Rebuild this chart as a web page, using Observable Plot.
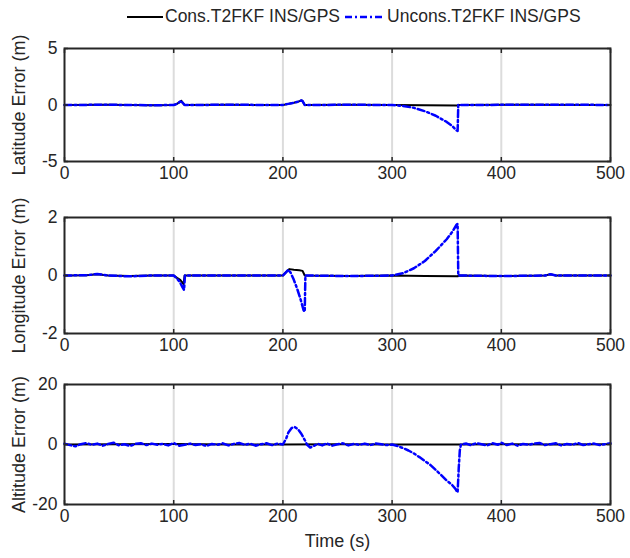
<!DOCTYPE html>
<html>
<head>
<meta charset="utf-8">
<script src="https://cdn.jsdelivr.net/npm/d3@7"></script>
<script src="https://cdn.jsdelivr.net/npm/@observablehq/plot@0.6"></script>
<style>
  html, body { margin: 0; padding: 0; background: #fff; }
  #wrap { position: relative; width: 630px; height: 558px; font-family: "Liberation Sans", Arial, sans-serif; color: #262626; }
  #wrap svg { position: absolute; left: 0; overflow: visible; }
  #legend { position: absolute; top: 6px; left: 126px; font-size: 17.5px; display: flex; align-items: center; white-space: nowrap; }
</style>
</head>
<body>
<div id="wrap">
  <div id="legend">
    <svg width="38" height="20" style="position:static"><line x1="1" y1="10" x2="37" y2="10" stroke="#000" stroke-width="2"/></svg>
    <span style="margin-left:1px">Cons.T2FKF INS/GPS</span>
    <svg width="42" height="20" style="position:static;margin-left:4px"><line x1="1" y1="10" x2="41" y2="10" stroke="#0000ff" stroke-width="2.5" stroke-dasharray="7,3,2,3"/></svg>
    <span style="margin-left:1px">Uncons.T2FKF INS/GPS</span>
  </div>
</div>
<script>
// ---- data: [time (s), error (m)] ----
const xTicks = [0, 100, 200, 300, 400, 500];
const gridTicks = [100, 200, 300, 400];
const seriesNames = ["Cons.T2FKF INS/GPS", "Uncons.T2FKF INS/GPS"];

const latCons = [[0,0],[40,0.02],[80,-0.02],[100,0],[103,0.1],[106,0.3],[107,0.38],[108,0.22],[110,0],[150,0.02],[200,0],[205,0.1],[210,0.2],[214,0.3],[217,0.4],[218,0.35],[220,0],[260,0.02],[300,0],[330,-0.03],[360,-0.04],[361,0],[420,0.02],[500,0]];
const latUncons = [[0,0],[40,0.02],[80,-0.02],[100,0],[103,0.1],[106,0.3],[107,0.38],[108,0.22],[110,0],[150,0.02],[200,0],[205,0.1],[210,0.2],[214,0.3],[217,0.4],[218,0.35],[220,0],[260,0.02],[300,0],[310,-0.08],[320,-0.25],[330,-0.55],[340,-0.95],[350,-1.5],[355,-1.85],[359,-2.25],[360,-2.3],[360.6,0],[420,0.02],[460,0.03],[500,0]];

const lonCons = [[0,0],[20,0.01],[30,0.04],[40,0],[60,-0.02],[80,0],[100,0],[103,-0.08],[106,-0.15],[108,-0.25],[109,-0.3],[110,0],[150,0],[200,0],[203,0.12],[206,0.22],[210,0.2],[215,0.18],[218,0.16],[220,0],[260,-0.02],[300,0],[330,-0.02],[360,-0.03],[361,0],[400,-0.02],[440,0],[445,0.04],[450,0],[500,0]];
const lonUncons = [[0,0],[20,0.01],[30,0.05],[40,0],[60,-0.03],[80,0],[100,0],[103,-0.1],[106,-0.25],[108,-0.4],[109.5,-0.5],[110.3,0],[150,0],[200,0],[203,0.12],[205,0.2],[207,0.1],[210,-0.15],[213,-0.45],[216,-0.8],[219,-1.2],[220,-1.25],[220.6,0],[260,-0.02],[300,0],[310,0.08],[320,0.25],[330,0.5],[340,0.85],[350,1.25],[355,1.5],[359,1.75],[360,1.78],[360.6,0],[400,-0.02],[440,0],[445,0.04],[450,0],[500,0]];

const altCons = [[0,0],[50,0.1],[100,0.2],[150,0],[200,0],[250,0.1],[300,0],[360,0],[400,0.1],[450,0],[500,0.1]];
const altUncons = [[0,0.3],[5,-0.2],[10,-0.6],[15,0.1],[20,0.5],[25,-0.1],[30,0.3],[35,-0.4],[40,0.2],[45,0.6],[50,-0.3],[55,0.1],[60,-0.5],[65,0.2],[70,0.4],[75,-0.2],[80,0.3],[85,-0.1],[90,0.2],[95,-0.3],[100,0.5],[105,-0.4],[110,-0.1],[115,0.3],[120,-0.2],[125,0.1],[130,-0.5],[135,0.2],[140,-0.1],[145,0.4],[150,-0.3],[155,0.2],[160,0.5],[165,-0.1],[170,0.3],[175,-0.4],[180,0.1],[185,0.4],[190,-0.2],[195,0.3],[200,0],[203,2],[205,4],[208,5.5],[211,5.8],[214,5],[217,3.5],[220,1.5],[222,0],[225,-1],[228,-0.5],[232,0.2],[236,-0.3],[240,0.4],[245,-0.4],[250,0.1],[255,0.4],[260,-0.3],[265,0.2],[270,-0.1],[275,0.3],[280,-0.2],[285,0.3],[290,0.1],[295,-0.2],[300,0],[305,-0.5],[310,-1.2],[315,-2],[320,-3],[325,-4.2],[330,-5.5],[335,-6.8],[340,-8.5],[345,-10.2],[350,-12],[355,-13.5],[358,-14.8],[360,-16],[361,-8],[362,-2],[363,0],[368,0.3],[372,-0.2],[377,0.4],[382,0.1],[387,-0.3],[392,0.4],[397,-0.1],[400,0.6],[405,-0.2],[410,0.3],[415,-0.4],[420,0.2],[425,-0.1],[430,0.3],[435,0.5],[440,-0.2],[445,0.1],[450,0.4],[455,-0.3],[460,0.2],[465,-0.1],[470,0.5],[475,-0.2],[480,0.1],[485,0.3],[490,-0.2],[495,0.1],[500,0.4]];

const panels = [
  {cons: latCons, uncons: latUncons, yDomain: [-5, 5], yTicks: [-5, 0, 5], label: "Latitude Error (m)", top: 0, height: 190, mt: 48, mb: 29, xLabel: null},
  {cons: lonCons, uncons: lonUncons, yDomain: [-2, 2], yTicks: [-2, 0, 2], label: "Longitude Error (m)", top: 190, height: 170, mt: 27, mb: 27, xLabel: null},
  {cons: altCons, uncons: altUncons, yDomain: [-20, 20], yTicks: [-20, 0, 20], label: "Altitude Error (m)", top: 360, height: 198, mt: 24, mb: 54, xLabel: "Time (s)"}
];

const wrap = document.getElementById("wrap");
const ink = "#262626";
const fmt = d => String(d);
for (const p of panels) {
  const svg = Plot.plot({
    width: 630,
    height: p.height,
    marginLeft: 64,
    marginRight: 20,
    marginTop: p.mt,
    marginBottom: p.mb,
    style: {fontFamily: "'Liberation Sans', Arial, sans-serif", fontSize: "17px", color: ink, background: "transparent", overflow: "visible"},
    x: {domain: [0, 500]},
    y: {domain: p.yDomain},
    marks: [
      Plot.gridX(gridTicks, {stroke: "#dcdcdc", strokeOpacity: 1, strokeWidth: 2}),
      Plot.line(p.cons, {x: d => d[0], y: d => d[1], stroke: "#000", strokeWidth: 2}),
      Plot.line(p.uncons, {x: d => d[0], y: d => d[1], stroke: "#0000ff", strokeWidth: 2.5, strokeDasharray: "7,3,2,3"}),
      Plot.axisX(xTicks, {anchor: "bottom", tickSize: 0, tickPadding: 5, fontSize: 17.5, tickFormat: fmt, label: p.xLabel, labelAnchor: "center", labelArrow: "none", labelOffset: 42}),
      Plot.axisX(xTicks, {anchor: "bottom", tickSize: -4, tickFormat: () => "", label: null, stroke: ink, strokeWidth: 1.5}),
      Plot.axisX(xTicks, {anchor: "top", tickSize: -4, tickFormat: () => "", label: null, stroke: ink, strokeWidth: 1.5}),
      Plot.axisY(p.yTicks, {anchor: "left", tickSize: 0, tickPadding: 7, fontSize: 17.5, tickFormat: fmt, label: p.label, labelAnchor: "center", labelArrow: "none", labelOffset: 52}),
      Plot.axisY(p.yTicks, {anchor: "left", tickSize: -4, tickFormat: () => "", label: null, stroke: ink, strokeWidth: 1.5}),
      Plot.axisY(p.yTicks, {anchor: "right", tickSize: -4, tickFormat: () => "", label: null, stroke: ink, strokeWidth: 1.5}),
      Plot.frame({stroke: ink, strokeWidth: 2})
    ]
  });
  svg.style.top = p.top + "px";
  // enlarge rotated axis label slightly to match the reference
  svg.querySelectorAll("g[aria-label='y-axis label'] text, g[aria-label='x-axis label'] text").forEach(t => t.setAttribute("font-size", "18"));
  wrap.appendChild(svg);
}
</script>
</body>
</html>
